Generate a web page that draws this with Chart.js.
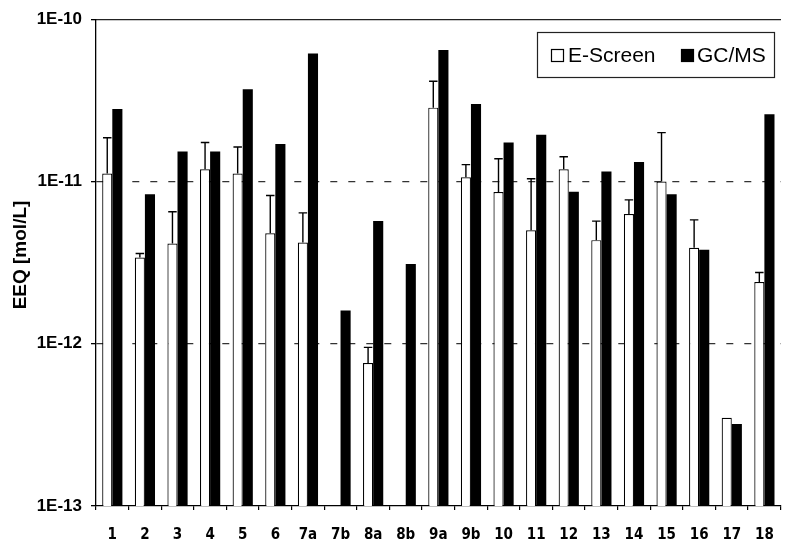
<!DOCTYPE html>
<html><head><meta charset="utf-8">
<script src="https://cdn.jsdelivr.net/npm/chart.js@4"></script>
<style>html,body{margin:0;padding:0;background:#fff;overflow:hidden}canvas{display:block}</style>
</head><body>
<canvas id="c" width="790" height="540"></canvas>
<script>
const categories = ['1','2','3','4','5','6','7a','7b','8a','8b','9a','9b','10','11','12','13','14','15','16','17','18'];
const eScreen = [1.12e-11, 3.4e-12, 4.15e-12, 1.19e-11, 1.12e-11, 4.8e-12, 4.2e-12, null, 7.6e-13, null, 2.85e-11, 1.06e-11, 8.6e-12, 5.0e-12, 1.19e-11, 4.35e-12, 6.3e-12, 1.0e-11, 3.9e-12, 3.5e-13, 2.4e-12];
const eScreenUpper = [1.86e-11, 3.6e-12, 6.5e-12, 1.74e-11, 1.63e-11, 8.2e-12, 6.4e-12, null, 9.5e-13, null, 4.15e-11, 1.27e-11, 1.38e-11, 1.04e-11, 1.42e-11, 5.7e-12, 7.7e-12, 2.0e-11, 5.8e-12, null, 2.75e-12];
const gcms = [2.8e-11, 8.35e-12, 1.53e-11, 1.53e-11, 3.7e-11, 1.7e-11, 6.15e-11, 1.6e-12, 5.7e-12, 3.1e-12, 6.45e-11, 3.0e-11, 1.74e-11, 1.94e-11, 8.65e-12, 1.15e-11, 1.32e-11, 8.35e-12, 3.8e-12, 3.2e-13, 2.6e-11];
const yTicks = [1e-13, 1e-12, 1e-11, 1e-10];
const yTitle = 'EEQ [mol/L]';

const FAMILY = "'Liberation Sans', Arial, sans-serif";
const NARROW = "'Liberation Sans Narrow', 'DejaVu Sans Condensed', 'Liberation Sans', Arial, sans-serif";

const errorBars = {
  id: 'errorBars',
  afterDatasetsDraw(chart) {
    const ctx = chart.ctx, ys = chart.scales.y;
    chart.data.datasets.forEach((ds, di) => {
      if (!ds.errUpper) return;
      const meta = chart.getDatasetMeta(di);
      meta.data.forEach((bar, i) => {
        const v = ds.data[i], u = ds.errUpper[i];
        if (v == null || u == null || u <= v) return;
        const x = bar.x, y0 = ys.getPixelForValue(v), y1 = ys.getPixelForValue(u);
        const hw = bar.width * 0.42;
        ctx.save();
        ctx.strokeStyle = '#000';
        ctx.lineWidth = 1.4;
        ctx.beginPath();
        ctx.moveTo(x, y0); ctx.lineTo(x, y1);
        ctx.moveTo(x - hw, y1); ctx.lineTo(x + hw, y1);
        ctx.stroke();
        ctx.restore();
      });
    });
  }
};

const boxLegend = {
  id: 'boxLegend',
  afterDraw(chart) {
    const ctx = chart.ctx;
    const ds = chart.data.datasets;
    ctx.save();
    ctx.fillStyle = '#fff';
    ctx.fillRect(537, 32, 238, 46);
    ctx.strokeStyle = '#222';
    ctx.lineWidth = 1.2;
    ctx.strokeRect(537.5, 32.5, 237, 45);
    ctx.font = "21px " + FAMILY;
    ctx.textBaseline = 'middle';
    ctx.textAlign = 'left';
    const items = [{x: 551, tx: 568}, {x: 681, tx: 697}];
    ds.forEach((d, i) => {
      const it = items[i];
      ctx.fillStyle = d.backgroundColor;
      ctx.fillRect(it.x, 49, 13, 13);
      ctx.strokeStyle = '#000';
      ctx.lineWidth = 1.2;
      ctx.strokeRect(it.x + 0.5, 49.5, 12, 12);
      ctx.fillStyle = '#000';
      ctx.fillText(d.label, it.tx, 56);
    });
    ctx.restore();
  }
};

const yTitlePlugin = {
  id: 'yTitlePlugin',
  afterDraw(chart) {
    const ctx = chart.ctx;
    ctx.save();
    ctx.translate(21, 255);
    ctx.rotate(-Math.PI / 2);
    ctx.font = "bold 19px " + FAMILY;
    ctx.fillStyle = '#000';
    ctx.textAlign = 'center';
    ctx.textBaseline = 'middle';
    ctx.fillText(yTitle, 0, 0);
    ctx.restore();
  }
};

new Chart(document.getElementById('c'), {
  type: 'bar',
  data: {
    labels: categories,
    datasets: [
      {label: 'E-Screen', data: eScreen, backgroundColor: '#fff', borderColor: '#000', borderWidth: 1.2, errUpper: eScreenUpper},
      {label: 'GC/MS', data: gcms, backgroundColor: '#000', borderColor: '#000', borderWidth: 0}
    ]
  },
  options: {
    responsive: false,
    animation: false,
    devicePixelRatio: 1,
    layout: {padding: {left: 0, top: 18, right: 2, bottom: 0}},
    datasets: {bar: {categoryPercentage: 0.62, barPercentage: 1.0}},
    plugins: {legend: {display: false}, tooltip: {enabled: false}},
    scales: {
      x: {
        position: 'bottom',
        grid: {offset: true, drawOnChartArea: false, drawTicks: true, tickLength: 4, tickColor: '#000', lineWidth: 1.2},
        border: {display: true, color: '#000', width: 1.3},
        ticks: {color: '#000', font: {size: 15, weight: 'bold', family: NARROW}, padding: 16, maxRotation: 0, autoSkip: false},
        afterFit(s) { s.height = 34; }
      },
      xTop: {
        type: 'category',
        position: 'top',
        display: true,
        grid: {display: false},
        ticks: {display: false},
        border: {display: true, color: '#222', width: 1.3},
        afterFit(s) { s.height = 0; }
      },
      y: {
        type: 'logarithmic',
        min: 1e-13,
        max: 1e-10,
        afterBuildTicks(s) { s.ticks = yTicks.map(v => ({value: v})); },
        ticks: {
          callback: v => '1E' + Math.round(Math.log10(v)),
          color: '#000',
          font: {size: 17, weight: 'bold', family: FAMILY},
          padding: 9
        },
        grid: {
          color: c => (c.tick && (c.tick.value === yTicks[1] || c.tick.value === yTicks[2])) ? '#333' : 'rgba(0,0,0,0)',
          lineWidth: 1.3,
          tickLength: 5,
          tickColor: '#000'
        },
        border: {display: true, color: '#000', width: 1.3, dash: [7, 11]},
        afterFit(s) { s.width = 96; }
      }
    }
  },
  plugins: [errorBars, boxLegend, yTitlePlugin]
});
</script>
</body></html>
